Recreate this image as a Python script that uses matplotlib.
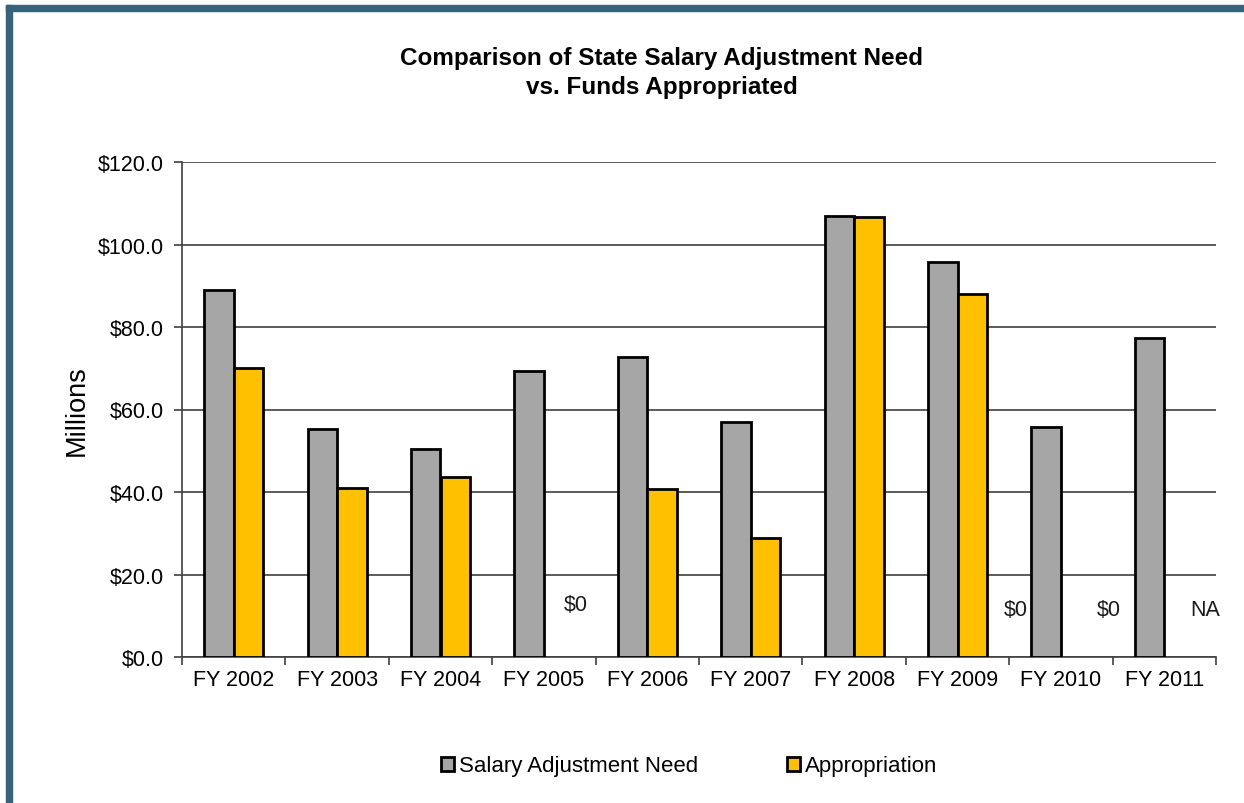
import numpy as np
import matplotlib.pyplot as plt
from matplotlib.patches import Rectangle

plt.rcParams['font.family'] = ['Liberation Sans', 'DejaVu Sans']

years = ["FY 2002", "FY 2003", "FY 2004", "FY 2005", "FY 2006",
         "FY 2007", "FY 2008", "FY 2009", "FY 2010", "FY 2011"]
need = [89.0, 55.3, 50.4, 69.3, 72.7, 57.0, 106.9, 95.8, 55.8, 77.3]
appropriation = [70.0, 41.0, 43.6, 0.0, 40.7, 28.8, 106.7, 88.0, 0.0, np.nan]

# text notes for years with no appropriation bar
notes = [("FY 2005", "$0", 0.31, 12.8), ("FY 2009", "$0", 0.56, 11.4),
         ("FY 2010", "$0", 0.46, 11.4), ("FY 2011", "NA", 0.40, 11.4)]

gray = "#a6a6a6"
gold = "#ffc000"

fig = plt.figure(figsize=(12.44, 8.04), dpi=100)
ax = fig.add_axes([182 / 1244, 1 - 658 / 804, 1034 / 1244, 495 / 804])

x = np.arange(len(years))
w = 0.285
app = np.array(appropriation)
has_bar = np.nan_to_num(app) > 0
ax.bar(x - w / 2, need, w, color=gray, edgecolor="black", linewidth=2,
       label="Salary Adjustment Need", zorder=3)
ax.bar(x[has_bar] + w / 2, app[has_bar], w, color=gold, edgecolor="black",
       linewidth=2, label="Appropriation", zorder=3)

for yr, txt, dx, yv in notes:
    ax.text(years.index(yr) + dx, yv, txt, ha="center", va="center",
            fontsize=15.5, color="#1a1a1a")

ax.set_xlim(-0.5, len(years) - 0.5)
ax.set_ylim(0, 120)
ax.set_yticks(np.arange(0, 121, 20))
ax.set_yticklabels(["$%.1f" % v for v in np.arange(0, 121, 20)], fontsize=15.5)
ax.yaxis.grid(True, color="#404040", linewidth=1.2, zorder=0)
ax.set_axisbelow(True)

ax.set_xticks(np.arange(-0.5, len(years), 1))
ax.set_xticklabels([])
ax.set_xticks(x, minor=True)
ax.set_xticklabels(years, minor=True, fontsize=15.5)
ax.tick_params(axis="x", which="minor", length=0, pad=9)
ax.tick_params(axis="x", which="major", length=6, width=1.2, color="#404040")
ax.tick_params(axis="y", length=6, width=1.2, color="#404040", pad=7)

for s in ["top", "right"]:
    ax.spines[s].set_visible(False)
for s in ["left", "bottom"]:
    ax.spines[s].set_color("#404040")
    ax.spines[s].set_linewidth(1.2)

ax.set_ylabel("Millions", fontsize=19.5, labelpad=6)

fig.text(662 / 1244, 1 - 73 / 804,
         "Comparison of State Salary Adjustment Need\nvs. Funds Appropriated",
         ha="center", va="center", fontsize=17.5, fontweight="bold",
         linespacing=1.3)

fig.legend(loc="center", bbox_to_anchor=(689 / 1244, 1 - 767 / 804), ncol=2,
           frameon=False, fontsize=16, handlelength=0.6, handleheight=0.6,
           handletextpad=0.2, columnspacing=4.0)

# frame around the figure
frame = "#36627a"
fig.patches.append(Rectangle((6 / 1244, 0), 6 / 1244, 1 - 6 / 804,
                             transform=fig.transFigure, color=frame))
fig.patches.append(Rectangle((6 / 1244, 1 - 12 / 804), 1, 6 / 804,
                             transform=fig.transFigure, color=frame))

fig.savefig("out.png", dpi=100)
